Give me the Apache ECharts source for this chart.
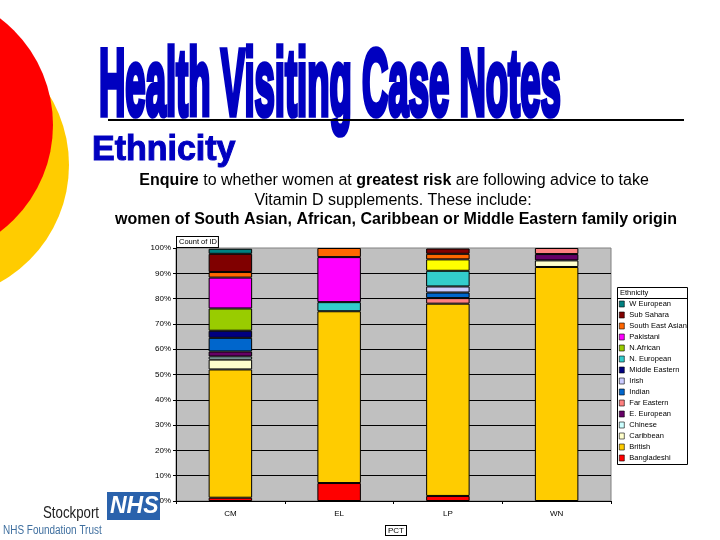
<!DOCTYPE html>
<html>
  <head>
    <meta charset="utf-8" />
    <title>Health Visiting Case Notes</title>
    <script src="https://cdn.jsdelivr.net/npm/echarts@6/dist/echarts.min.js"></script>
    <style>
      html, body { margin: 0; padding: 0; background: #fff; }
    </style>
  </head>
  <body>
    <div id="main" style="width: 720px; height: 540px"></div>
    <script type="text/javascript">
      var categories = ["CM", "EL", "LP", "WN"];

      // percent of each PCT, bottom of the stack first
      var bangladeshi = [1.3, 7.1, 2.0, "-"];
      var british = [50.7, 67.9, 76.0, 92.5];
      var caribbean = [3.9, "-", "-", 2.6];
      var chinese = [1.2, "-", "-", "-"];
      var eEuropean = [2.0, "-", "-", 2.5];
      var farEastern = ["-", "-", 2.2, 2.4];
      var indian = [5.4, "-", 2.2, "-"];
      var irish = ["-", "-", 2.4, "-"];
      var middleEastern = [2.8, "-", "-", "-"];
      var nEuropean = ["-", 3.6, 6.2, "-"];
      var unlisted = ["-", "-", 4.5, "-"]; // yellow band in LP, has no legend entry
      var nAfrican = [8.8, "-", "-", "-"];
      var pakistani = [12.2, 17.8, "-", "-"];
      var southEastAsian = [2.2, 3.6, 2.2, "-"];
      var subSahara = [7.2, "-", 2.1, "-"];
      var wEuropean = [2.0, "-", "-", "-"];

      var legendNames = [
        "W European", "Sub Sahara", "South East Asian", "Pakistani", "N.African",
        "N. European", "Middle Eastern", "Irish", "Indian", "Far Eastern",
        "E. European", "Chinese", "Caribbean", "British", "Bangladeshi",
      ];

      var myChart = echarts.init(document.getElementById("main"));

      function bar(name, values, color) {
        return {
          name: name,
          type: "bar",
          stack: "all",
          barWidth: "40%",
          data: values,
          itemStyle: { color: color, borderColor: "#000", borderWidth: 1 },
        };
      }

      var font = "Liberation Sans, Arial, sans-serif";

      var option = {
        animation: false,
        textStyle: { fontFamily: font },
        grid: {
          left: 176,
          right: 109,
          top: 248,
          bottom: 39,
          show: true,
          backgroundColor: "#c0c0c0",
          borderColor: "#808080",
          borderWidth: 1,
        },
        xAxis: {
          type: "category",
          data: categories,
          axisLine: { lineStyle: { color: "#000" } },
          axisTick: { show: true, length: 3, lineStyle: { color: "#000" } },
          axisLabel: { color: "#000", fontSize: 8, margin: 9 },
        },
        yAxis: {
          type: "value",
          min: 0,
          max: 100,
          interval: 10,
          axisLine: { show: true, lineStyle: { color: "#000" } },
          axisTick: { show: true, length: 3, lineStyle: { color: "#000" } },
          axisLabel: { color: "#000", fontSize: 8, margin: 5, formatter: "{value}%" },
          splitLine: { show: true, showMaxLine: false, lineStyle: { color: "#000", width: 1 } },
        },
        legend: {
          orient: "vertical",
          left: 617,
          top: 298,
          padding: [2, 0, 0, 2],
          icon: "rect",
          itemWidth: 5,
          itemHeight: 6,
          itemGap: 3,
          selectedMode: false,
          data: legendNames,
          itemStyle: { borderWidth: 0.6 },
          textStyle: { color: "#000", fontSize: 7.5, lineHeight: 8 },
        },
        series: [
          bar("Bangladeshi", bangladeshi, "#ff0000"),
          bar("British", british, "#ffcc00"),
          bar("Caribbean", caribbean, "#ffffcc"),
          bar("Chinese", chinese, "#ccffff"),
          bar("E. European", eEuropean, "#660066"),
          bar("Far Eastern", farEastern, "#ff8080"),
          bar("Indian", indian, "#0066cc"),
          bar("Irish", irish, "#ccccff"),
          bar("Middle Eastern", middleEastern, "#000080"),
          bar("N. European", nEuropean, "#33cccc"),
          bar("Unlisted", unlisted, "#ffff00"),
          bar("N.African", nAfrican, "#99cc00"),
          bar("Pakistani", pakistani, "#ff00ff"),
          bar("South East Asian", southEastAsian, "#ff6600"),
          bar("Sub Sahara", subSahara, "#800000"),
          bar("W European", wEuropean, "#008080"),
        ],
        graphic: [
          // slide decoration
          { type: "circle", z: -2, shape: { cx: -65, cy: 165, r: 134 }, style: { fill: "#ffcc00" } },
          { type: "circle", z: -1, shape: { cx: -81, cy: 125, r: 134 }, style: { fill: "#ff0000" } },
          // heading, squeezed like the slide's WordArt
          {
            type: "text",
            x: 99,
            y: 41,
            scaleX: 0.365,
            scaleY: 0.95,
            style: {
              text: "Health Visiting Case Notes",
              font: "bold 100px " + font,
              fill: "#0000c0",
              stroke: "#0000c0",
              lineWidth: 6,
            },
          },
          { type: "rect", shape: { x: 108, y: 119, width: 576, height: 2 }, style: { fill: "#000" } },
          {
            type: "text",
            x: 92,
            y: 133,
            scaleX: 1.03,
            scaleY: 1.05,
            style: {
              text: "Ethnicity",
              font: "bold 33px " + font,
              fill: "#0000c0",
              stroke: "#0000c0",
              lineWidth: 1,
            },
          },
          {
            type: "text",
            x: 394,
            y: 181,
            style: {
              text: "{b|Enquire} to whether women at {b|greatest risk} are following advice to take",
              align: "center",
              verticalAlign: "middle",
              font: "16px " + font,
              fill: "#000",
              rich: { b: { font: "bold 16px " + font, fill: "#000" } },
            },
          },
          {
            type: "text",
            x: 393,
            y: 201,
            style: {
              text: "Vitamin D supplements. These include:",
              align: "center",
              verticalAlign: "middle",
              font: "16px " + font,
              fill: "#000",
            },
          },
          {
            type: "text",
            x: 396,
            y: 220,
            style: {
              text: "women of South Asian, African, Caribbean or Middle Eastern family origin",
              align: "center",
              verticalAlign: "middle",
              font: "bold 16px " + font,
              fill: "#000",
            },
          },
          // pivot table field buttons
          {
            type: "text",
            x: 177,
            y: 237,
            style: {
              text: "Count of ID",
              font: "7.5px " + font,
              fill: "#000",
              backgroundColor: "#fff",
              borderColor: "#000",
              borderWidth: 1,
              padding: [1, 1, 1, 2],
            },
          },
          {
            type: "text",
            x: 386,
            y: 526,
            style: {
              text: "PCT",
              font: "8px " + font,
              fill: "#000",
              backgroundColor: "#fff",
              borderColor: "#000",
              borderWidth: 1,
              padding: [1, 2, 0, 2],
            },
          },
          // legend box with its title row
          {
            type: "rect",
            shape: { x: 617.5, y: 287.5, width: 70, height: 177 },
            style: { fill: "#fff", stroke: "#000", lineWidth: 1 },
          },
          { type: "rect", shape: { x: 617.5, y: 298, width: 70, height: 1 }, style: { fill: "#000" } },
          {
            type: "text",
            x: 620,
            y: 289,
            style: { text: "Ethnicity", font: "7.5px " + font, fill: "#000" },
          },
          // logo
          { type: "rect", shape: { x: 107, y: 492, width: 53, height: 28 }, style: { fill: "#2a62ac" } },
          {
            type: "text",
            x: 110,
            y: 495,
            style: { text: "NHS", font: "italic bold 23px " + font, fill: "#fff" },
          },
          {
            type: "text",
            x: 43,
            y: 505,
            scaleX: 0.78,
            style: { text: "Stockport", font: "17px " + font, fill: "#222" },
          },
          {
            type: "text",
            x: 3,
            y: 525,
            scaleX: 0.83,
            style: { text: "NHS Foundation Trust", font: "12px " + font, fill: "#3f6f9f" },
          },
        ],
      };

      myChart.setOption(option);
    </script>
  </body>
</html>
